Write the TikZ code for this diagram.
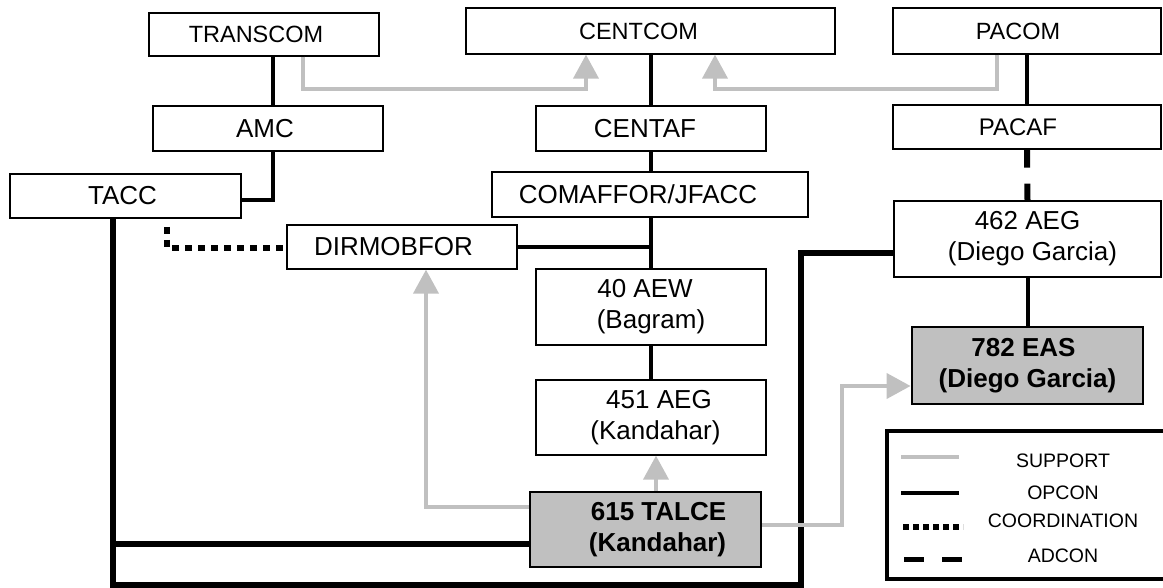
\documentclass[tikz,border=0pt]{standalone}
\usepackage{fontspec}
\setmainfont{Liberation Sans}
\usetikzlibrary{arrows.meta}
\definecolor{supgray}{HTML}{C0C0C0}
\definecolor{boxgray}{HTML}{C0C0C0}
\begin{document}
\begin{tikzpicture}[x=1pt,y=-1pt,
  box/.style={draw, line width=1.3pt, rectangle, inner sep=0pt, align=center,
    font=\fontsize{26}{31}\selectfont},
  topbox/.style={box, font=\fontsize{23.5}{28}\selectfont},
  hibox/.style={box, fill=boxgray, line width=2.8pt,
    font=\bfseries\fontsize{26}{31}\selectfont},
  legtext/.style={inner sep=0pt, font=\fontsize{19.5}{22}\selectfont},
  opcon/.style={line width=4pt},
  thickop/.style={line width=6pt, line join=miter},
  adcon/.style={line width=6pt, dash pattern=on 18pt off 16pt},
  coordl/.style={line width=6pt, dash pattern=on 7pt off 6pt},
  support/.style={draw=supgray, line width=4pt, line join=miter,
    -{Triangle[width=25pt,length=24pt]}}]
\useasboundingbox (0,0) rectangle (1163,588);

% boxes
\node[topbox, minimum width=230pt, minimum height=43pt] (TRANSCOM) at (264,34.5) {TRANSCOM\kern16pt};
\node[topbox, minimum width=369pt, minimum height=46pt] (CENTCOM) at (650.5,31) {CENTCOM\kern24pt};
\node[topbox, minimum width=268pt, minimum height=46pt] (PACOM) at (1027,31) {PACOM\kern18pt};
\node[box, minimum width=230pt, minimum height=45pt] (AMC) at (268,128.5) {AMC\kern6pt};
\node[box, minimum width=230pt, minimum height=45pt] (CENTAF) at (651,128.5) {CENTAF\kern12pt};
\node[box, font=\fontsize{24}{29}\selectfont, minimum width=268pt, minimum height=44pt] (PACAF) at (1027,127) {PACAF\kern18pt};
\node[box, minimum width=231pt, minimum height=44pt] (TACC) at (125.5,196) {TACC\kern6pt};
\node[box, minimum width=316pt, minimum height=45pt] (COMAFFOR) at (650,194.5) {COMAFFOR/JFACC\kern24pt};
\node[box, minimum width=230pt, minimum height=44pt] (DIRMOBFOR) at (402,247) {DIRMOBFOR\kern17pt};
\node[box, minimum width=267pt, minimum height=76pt] (AEG462) at (1027.5,239) {462 AEG\\\kern10pt(Diego Garcia)};
\node[box, minimum width=230pt, minimum height=76pt] (AEW40) at (651,307) {40 AEW\kern12pt\\(Bagram)};
\node[box, minimum width=230pt, minimum height=75pt] (AEG451) at (651,417.5) {\kern16pt451 AEG\\\kern9pt(Kandahar)};
\node[hibox, minimum width=231pt, minimum height=77pt] (EAS) at (1027.5,365.5) {782 EAS\kern8pt\\(Diego Garcia)};
\node[hibox, minimum width=231pt, minimum height=75pt] (TALCE) at (645.5,529.5) {\kern26pt615 TALCE\\\kern24pt(Kandahar)};

% helper coordinates
\coordinate (xA) at (273,0);
\coordinate (xT) at (303,0);
\coordinate (xC1) at (586,0);
\coordinate (xC2) at (715,0);
\coordinate (xP) at (997,0);
\coordinate (yS) at (0,89);
\coordinate (yAT) at (0,200);
\coordinate (xTA) at (113,0);
\coordinate (yO) at (0,544);
\coordinate (yB) at (0,585);
\coordinate (xV) at (801,0);
\coordinate (yH) at (0,253);
\coordinate (xCo) at (167,0);
\coordinate (yC1) at (0,227);
\coordinate (yCo) at (0,248);
\coordinate (xD) at (426,0);
\coordinate (yG) at (0,507);
\coordinate (xK) at (656,0);
\coordinate (yR) at (0,525);
\coordinate (xR) at (842,0);
\coordinate (yE) at (0,386);

% OPCON
\draw[opcon] (xA |- TRANSCOM.south) -- (xA |- AMC.north);
\draw[opcon] (xA |- AMC.south) |- (TACC.east |- yAT);
\draw[opcon] (CENTCOM.south) -- (CENTCOM.south |- CENTAF.north);
\draw[opcon] (CENTCOM.south |- CENTAF.south) -- (CENTCOM.south |- COMAFFOR.north);
\draw[opcon] (CENTCOM.south |- COMAFFOR.south) -- (CENTCOM.south |- AEW40.north);
\draw[opcon] (DIRMOBFOR.east) -- (DIRMOBFOR.east -| CENTCOM.south);
\draw[opcon] (AEW40.south) -- (AEG451.north);
\draw[opcon] (PACOM.south) -- (PACAF.north);
\draw[opcon] (AEG462.south) -- (EAS.north);
\draw[thickop] (xTA |- TACC.south) |- (TALCE.west |- yO);
\draw[thickop] (xTA |- yO) -- (xTA |- yB) -| (xV |- yH) -- (AEG462.west |- yH);

% ADCON
\draw[adcon] (PACAF.south) -- (AEG462.north);

% COORDINATION
\draw[coordl] (xCo |- yC1) |- (DIRMOBFOR.west |- yCo);

% SUPPORT
\draw[support] (xT |- TRANSCOM.south) -- (xT |- yS) -| (xC1 |- CENTCOM.south);
\draw[support] (xP |- PACOM.south) -- (xP |- yS) -| (xC2 |- CENTCOM.south);
\draw[support] (TALCE.west |- yG) -| (xD |- DIRMOBFOR.south);
\draw[support] (xK |- TALCE.north) -- (xK |- AEG451.south);
\draw[support] (TALCE.east |- yR) -| (xR |- yE) -- (EAS.west |- yE);

% legend
\draw[line width=4pt, line join=miter] (1163,431) -- (887,431) -- (887,579) -- (1163,579);
\draw[draw=supgray, line width=4pt] (901,457) -- (959,457);
\draw[line width=4.5pt] (901,493) -- (959,493);
\draw[line width=6pt, dash pattern=on 6pt off 4pt] (903,527) -- (963,527);
\draw[line width=5pt, dash pattern=on 20pt off 18pt] (904,559) -- (962,559);
\node[legtext] (LSUP) at (1063,461) {SUPPORT};
\node[legtext] (LOP) at (1063,492.5) {OPCON};
\node[legtext] (LCO) at (1063,521) {COORDINATION};
\node[legtext] (LAD) at (1063,556) {ADCON};
\end{tikzpicture}
\end{document}
